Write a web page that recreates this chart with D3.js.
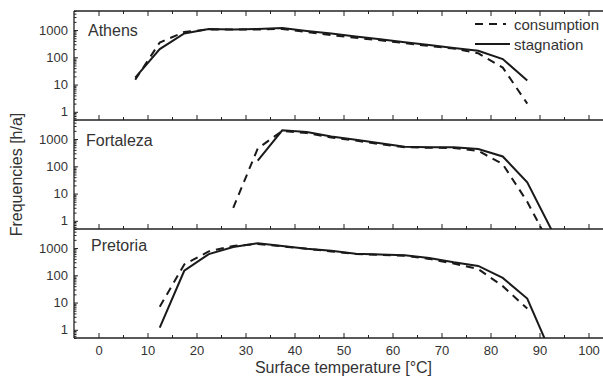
<!DOCTYPE html>
<html>
<head>
<meta charset="utf-8">
<script src="https://cdn.jsdelivr.net/npm/d3@7"></script>
<style>
  body { margin: 0; background: #fff; }
  svg text { font-family: "Liberation Sans", Arial, sans-serif; fill: #333; }
</style>
</head>
<body>
<div id="chart"></div>
<script>
const temperatures = [7.5, 12.5, 17.5, 22.5, 27.5, 32.5, 37.5, 42.5, 47.5, 52.5, 57.5, 62.5, 67.5, 72.5, 77.5, 82.5, 87.5, 92.5];
const cities = ["Athens", "Fortaleza", "Pretoria"];

// null = no hours in that bin
const athensConsumption = [15, 350, 850, 1050, 1050, 1050, 1100, 850, 650, 520, 420, 330, 260, 210, 140, 42, 2, null];
const athensStagnation = [18, 200, 750, 1100, 1050, 1100, 1200, 930, 740, 575, 460, 355, 280, 220, 174, 86, 14, null];
const fortalezaConsumption = [null, null, null, null, 3, 450, 2000, 1650, 1150, 880, 650, 500, 480, 470, 370, 120, 5, 0.1];
const fortalezaStagnation = [null, null, null, null, null, 160, 2100, 1800, 1250, 950, 700, 520, 500, 500, 430, 230, 26, 0.45];
const pretoriaConsumption = [null, 7, 250, 750, 1200, 1400, 1150, 950, 750, 600, 560, 520, 400, 270, 170, 40, 6, null];
const pretoriaStagnation = [null, 1.2, 147, 600, 1100, 1500, 1200, 950, 800, 620, 580, 540, 430, 300, 220, 80, 14, 0.12];

const xTicks = [0, 10, 20, 30, 40, 50, 60, 70, 80, 90, 100];
const xMinorTicks = [5, 15, 25, 35, 45, 55, 65, 75, 85, 95];
const yTicks = [1, 10, 100, 1000];
const seriesNames = ["consumption", "stagnation"];

const panelData = [
  [athensConsumption, athensStagnation],
  [fortalezaConsumption, fortalezaStagnation],
  [pretoriaConsumption, pretoriaStagnation]
];

const width = 603;
const height = 376;
const margin = {top: 11, left: 74};
const panelHeight = 109;
// city label placement inside each panel
const labelPos = [[88, 25], [86, 26], [91, 22]];

const svg = d3.select("#chart")
  .append("svg")
  .attr("width", width)
  .attr("height", height);

const xScale = d3.scaleLinear()
  .domain([-5, 105])
  .range([margin.left, margin.left + 110 * 4.9]);

const yMinorTicks = [];
[0.1, 1, 10, 100, 1000].forEach(decade => {
  d3.range(2, 10).forEach(m => {
    const v = decade * m;
    if (v >= 0.5 && v <= 5000 && !yTicks.includes(v)) yMinorTicks.push(v);
  });
});

const line = y => d3.line()
  .defined(d => d[1] != null)
  .x(d => xScale(d[0]))
  .y(d => y(d[1]));

panelData.forEach((series, i) => {
  const top = margin.top + i * panelHeight;
  const bottom = top + panelHeight;
  const isLast = i === panelData.length - 1;

  const yScale = d3.scaleLog()
    .domain([0.5, 5000])
    .range([bottom, top]);

  const panel = svg.append("g").attr("class", "panel");

  panel.append("clipPath")
    .attr("id", `clip-${i}`)
    .append("rect")
    .attr("x", margin.left)
    .attr("y", top)
    .attr("width", width - margin.left)
    .attr("height", panelHeight);

  // bottom ticks (inward)
  const xAxis = panel.append("g")
    .attr("transform", `translate(0, ${bottom})`)
    .call(d3.axisBottom(xScale).tickValues(xTicks).tickSize(-5).tickPadding(8)
      .tickFormat(isLast ? d3.format("d") : () => ""));
  xAxis.append("g")
    .call(d3.axisBottom(xScale).tickValues(xMinorTicks).tickSize(-3).tickFormat(() => ""));

  if (i === 0) {
    const topAxis = panel.append("g")
      .attr("transform", `translate(0, ${top})`)
      .call(d3.axisTop(xScale).tickValues(xTicks).tickSize(-5).tickFormat(() => ""));
    topAxis.append("g")
      .call(d3.axisTop(xScale).tickValues(xMinorTicks).tickSize(-3).tickFormat(() => ""));
  }

  const yAxis = panel.append("g")
    .attr("transform", `translate(${margin.left}, 0)`)
    .call(d3.axisLeft(yScale).tickValues(yTicks).tickSize(-4).tickPadding(6).tickFormat(d3.format("d")));
  yAxis.append("g")
    .call(d3.axisLeft(yScale).tickValues(yMinorTicks).tickSize(-2.5).tickFormat(() => ""));

  panel.selectAll(".domain").remove();
  panel.selectAll(".tick line").attr("stroke", "#222").attr("stroke-width", 1);
  panel.selectAll(".tick text")
    .style("font-size", "13px")
    .style("font-family", "Liberation Sans, Arial, sans-serif")
    .attr("fill", "#333");

  // frame lines
  panel.append("line")
    .attr("x1", margin.left).attr("x2", width)
    .attr("y1", bottom).attr("y2", bottom)
    .attr("stroke", "#222").attr("stroke-width", 1.3);
  if (i === 0) {
    panel.append("line")
      .attr("x1", margin.left).attr("x2", width)
      .attr("y1", top).attr("y2", top)
      .attr("stroke", "#222").attr("stroke-width", 1.3);
  }
  panel.append("line")
    .attr("x1", margin.left).attr("x2", margin.left)
    .attr("y1", top).attr("y2", bottom)
    .attr("stroke", "#222").attr("stroke-width", 1.3);

  const lines = panel.append("g").attr("clip-path", `url(#clip-${i})`);
  series.forEach((values, s) => {
    lines.append("path")
      .datum(values.map((v, k) => [temperatures[k], v]))
      .attr("fill", "none")
      .attr("stroke", "#1a1a1a")
      .attr("stroke-width", 2)
      .attr("stroke-dasharray", s === 0 ? "8,6" : null)
      .attr("d", line(yScale));
  });

  panel.append("text")
    .attr("x", labelPos[i][0])
    .attr("y", top + labelPos[i][1])
    .style("font-size", "16px")
    .text(cities[i]);
});

// legend
const legend = svg.append("g").attr("class", "legend");
seriesNames.forEach((name, s) => {
  const y = 24 + s * 20;
  legend.append("line")
    .attr("x1", 475).attr("x2", s === 0 ? 506 : 510)
    .attr("y1", y).attr("y2", y)
    .attr("stroke", "#1a1a1a")
    .attr("stroke-width", 2)
    .attr("stroke-dasharray", s === 0 ? "8,6" : null);
  legend.append("text")
    .attr("x", 514)
    .attr("y", y + 6)
    .style("font-size", "15px")
    .text(name);
});

svg.append("text")
  .attr("transform", `translate(22, ${margin.top + 1.5 * panelHeight}) rotate(-90)`)
  .attr("text-anchor", "middle")
  .style("font-size", "16px")
  .text("Frequencies [h/a]");

svg.append("text")
  .attr("x", xScale(50))
  .attr("y", 373)
  .attr("text-anchor", "middle")
  .style("font-size", "16px")
  .text("Surface temperature [°C]");
</script>
</body>
</html>
